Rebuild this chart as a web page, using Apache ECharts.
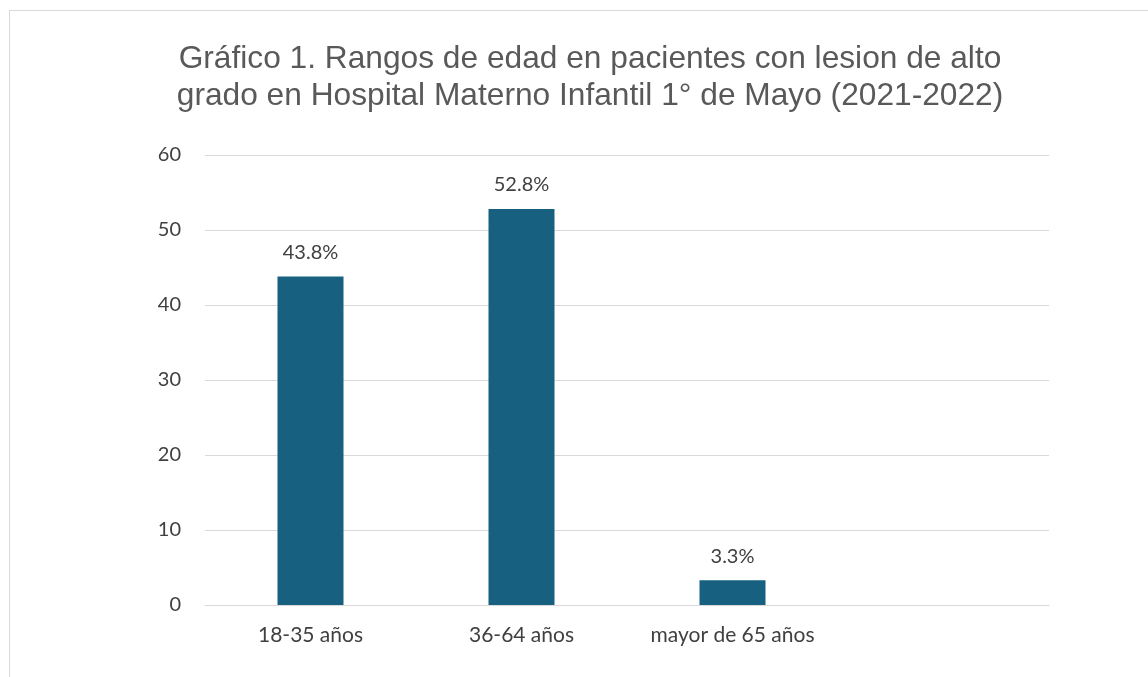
<!DOCTYPE html>
<html>
<head>
<meta charset="utf-8">
<script src="https://cdn.jsdelivr.net/npm/echarts@6/dist/echarts.min.js"></script>
<style>
  html, body { margin: 0; padding: 0; background: #fff; }
  #frame { position: absolute; left: 9px; top: 10px; width: 1200px; height: 700px; border: 1px solid #d9d9d9; }
  #chart { position: absolute; left: 0; top: 0; width: 1148px; height: 677px; }
</style>
</head>
<body>
<div id="frame"></div>
<div id="chart"></div>
<script>
// datos del gráfico
const categorias = ['18-35 años', '36-64 años', 'mayor de 65 años', ''];
const porcentajes = [43.8, 52.8, 3.3, null];
const ticksY = [0, 10, 20, 30, 40, 50, 60];

const chart = echarts.init(document.getElementById('chart'));

const option = {
  animation: false,
  title: {
    text: 'Gráfico 1. Rangos de edad en pacientes con lesion de alto\ngrado en Hospital Materno Infantil 1° de Mayo (2021-2022)',
    left: 585,
    top: 36,
    textAlign: 'center',
    textStyle: {
      fontFamily: 'Liberation Sans, Arial',
      fontSize: 31.7,
      fontWeight: 'normal',
      color: '#595959',
      lineHeight: 37
    }
  },
  grid: { left: 205, right: 99, top: 155, bottom: 72, containLabel: false },
  xAxis: {
    type: 'category',
    data: categorias,
    axisLine: { lineStyle: { color: '#d9d9d9', width: 1 } },
    axisTick: { show: false },
    axisLabel: { interval: 0, hideOverlap: false, color: '#404040', fontFamily: 'Lato, Open Sans', fontSize: 21, margin: 20 }
  },
  yAxis: {
    type: 'value',
    min: ticksY[0],
    max: ticksY[ticksY.length - 1],
    interval: 10,
    axisLine: { show: false },
    axisTick: { show: false },
    axisLabel: { color: '#404040', fontFamily: 'Lato, Open Sans', fontSize: 20, margin: 24 },
    splitLine: { lineStyle: { color: '#d9d9d9', width: 1 } }
  },
  series: [
    {
      type: 'bar',
      data: porcentajes,
      barWidth: 66,
      itemStyle: { color: '#17607f' },
      label: {
        show: true,
        position: 'top',
        distance: 14,
        color: '#404040',
        fontFamily: 'Lato, Open Sans',
        fontSize: 20,
        formatter: p => p.value.toFixed(1) + '%'
      }
    }
  ]
};

chart.setOption(option);
</script>
</body>
</html>
